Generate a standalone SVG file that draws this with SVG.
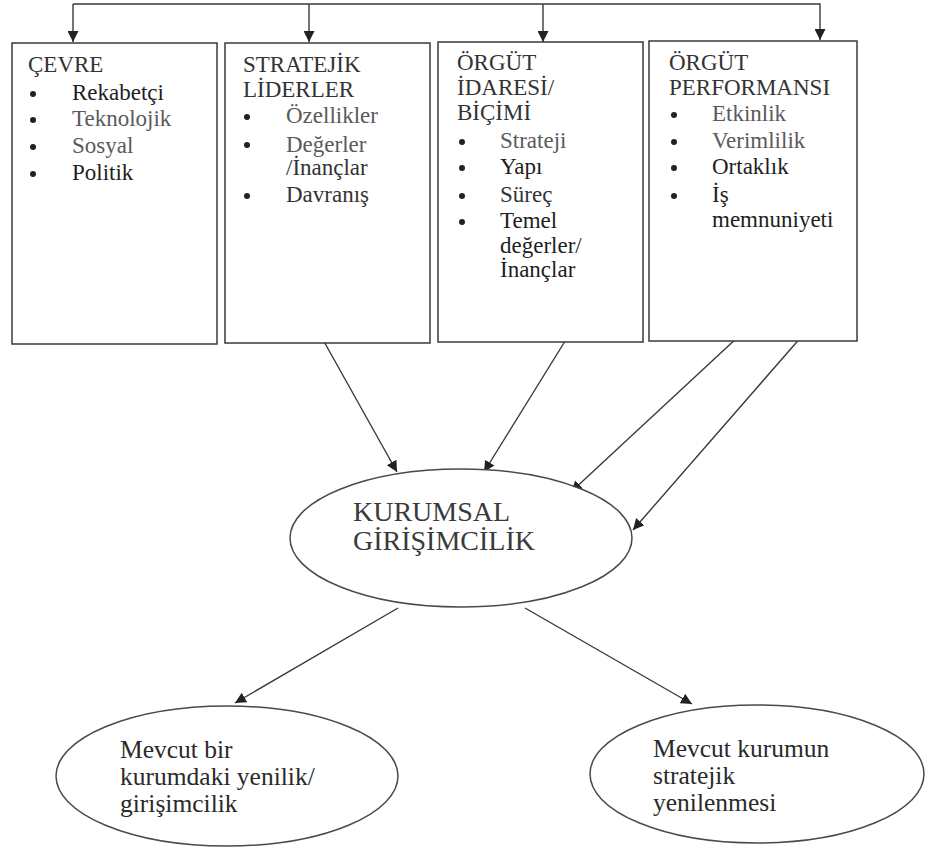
<svg xmlns="http://www.w3.org/2000/svg" width="927" height="850" viewBox="0 0 927 850" font-family="Liberation Serif, Times New Roman, serif">
  <style>
    .box { fill: #fff; stroke: #3a3a3a; stroke-width: 1.5; }
    .oval { fill: #fff; stroke: #4a4a4a; stroke-width: 1.5; }
    .wire { fill: none; stroke: #3a3a3a; stroke-width: 1.4; }
    .t { font-size: 23px; fill: #333; }
    .dk { fill: #1e1e1e; }
    .lt { fill: #5a5a5a; }
    .big { font-size: 28px; fill: #3a3a3a; }
    .mid { font-size: 25.5px; fill: #2a2a2a; }
    .dot { fill: #222; }
  </style>
  <defs>
    <marker id="ah" viewBox="0 0 10 10" refX="10" refY="5" markerWidth="11" markerHeight="11" markerUnits="userSpaceOnUse" orient="auto">
      <path d="M0,0 L10,5 L0,10 Z" fill="#222"/>
    </marker>
  </defs>

  <g id="connectors">
    <!-- feedback bus across the top, dropping into each box -->
    <polyline class="wire" points="73,4 820,4 820,40" marker-end="url(#ah)"/>
    <line class="wire" x1="73" y1="4" x2="73" y2="42" marker-end="url(#ah)"/>
    <line class="wire" x1="309" y1="4" x2="309" y2="42" marker-end="url(#ah)"/>
    <line class="wire" x1="543" y1="4" x2="543" y2="42" marker-end="url(#ah)"/>
    <!-- inputs to the central oval -->
    <line class="wire" x1="322" y1="338" x2="397" y2="472" marker-end="url(#ah)"/>
    <line class="wire" x1="567" y1="338" x2="484" y2="472" marker-end="url(#ah)"/>
    <line class="wire" x1="739" y1="336" x2="571" y2="492" marker-end="url(#ah)"/>
    <line class="wire" x1="802" y1="336" x2="633" y2="530" marker-end="url(#ah)"/>
    <!-- outcomes -->
    <line class="wire" x1="398" y1="608" x2="235" y2="703" marker-end="url(#ah)"/>
    <line class="wire" x1="525" y1="608" x2="692" y2="704" marker-end="url(#ah)"/>
  </g>

  <g id="cevre">
    <rect class="box" x="12" y="43" width="205" height="301"/>
    <text class="t" x="28" y="72">ÇEVRE</text>
    <circle class="dot" cx="33" cy="94" r="3"/>
    <text class="t dk" x="72" y="100">Rekabetçi</text>
    <circle class="dot" cx="33" cy="120" r="3"/>
    <text class="t lt" x="72" y="126">Teknolojik</text>
    <circle class="dot" cx="33" cy="147" r="3"/>
    <text class="t lt" x="72" y="153">Sosyal</text>
    <circle class="dot" cx="33" cy="174" r="3"/>
    <text class="t dk" x="72" y="180">Politik</text>
  </g>

  <g id="stratejik-liderler">
    <rect class="box" x="225" y="43" width="205" height="300"/>
    <text class="t" x="243" y="72">STRATEJİK</text>
    <text class="t" x="243" y="97">LİDERLER</text>
    <circle class="dot" cx="247" cy="117" r="3"/>
    <text class="t lt" x="286" y="123">Özellikler</text>
    <circle class="dot" cx="247" cy="145" r="3"/>
    <text class="t lt" x="286" y="152">Değerler</text>
    <text class="t" x="286" y="175">/İnançlar</text>
    <circle class="dot" cx="247" cy="196" r="3"/>
    <text class="t" x="286" y="202">Davranış</text>
  </g>

  <g id="orgut-idaresi">
    <rect class="box" x="438" y="42" width="205" height="300"/>
    <text class="t" x="457" y="70">ÖRGÜT</text>
    <text class="t" x="457" y="95">İDARESİ/</text>
    <text class="t" x="457" y="120">BİÇİMİ</text>
    <circle class="dot" cx="462" cy="142" r="3"/>
    <text class="t lt" x="500" y="148">Strateji</text>
    <circle class="dot" cx="462" cy="168" r="3"/>
    <text class="t dk" x="500" y="174">Yapı</text>
    <circle class="dot" cx="462" cy="196" r="3"/>
    <text class="t" x="500" y="202">Süreç</text>
    <circle class="dot" cx="462" cy="222" r="3"/>
    <text class="t dk" x="500" y="228">Temel</text>
    <text class="t dk" x="500" y="253">değerler/</text>
    <text class="t dk" x="500" y="277">İnançlar</text>
  </g>

  <g id="orgut-performansi">
    <rect class="box" x="649" y="41" width="208" height="300"/>
    <text class="t" x="669" y="70">ÖRGÜT</text>
    <text class="t" x="669" y="95">PERFORMANSI</text>
    <circle class="dot" cx="674" cy="115" r="3"/>
    <text class="t lt" x="712" y="121">Etkinlik</text>
    <circle class="dot" cx="674" cy="142" r="3"/>
    <text class="t lt" x="712" y="148">Verimlilik</text>
    <circle class="dot" cx="674" cy="168" r="3"/>
    <text class="t dk" x="712" y="174">Ortaklık</text>
    <circle class="dot" cx="674" cy="196" r="3"/>
    <text class="t dk" x="712" y="202">İş</text>
    <text class="t dk" x="712" y="227">memnuniyeti</text>
  </g>

  <g id="kurumsal-girisimcilik">
    <ellipse class="oval" cx="461" cy="538" rx="171" ry="69"/>
    <text class="big" x="353" y="521">KURUMSAL</text>
    <text class="big" x="353" y="550">GİRİŞİMCİLİK</text>
  </g>

  <g id="yenilik-girisimcilik">
    <ellipse class="oval" cx="227" cy="776" rx="171" ry="70"/>
    <text class="mid" x="120" y="758">Mevcut bir</text>
    <text class="mid" x="120" y="785">kurumdaki yenilik/</text>
    <text class="mid" x="120" y="812">girişimcilik</text>
  </g>

  <g id="stratejik-yenilenme">
    <ellipse class="oval" cx="757" cy="774" rx="167" ry="69"/>
    <text class="mid" x="653" y="757">Mevcut kurumun</text>
    <text class="mid" x="653" y="784">stratejik</text>
    <text class="mid" x="653" y="811">yenilenmesi</text>
  </g>
</svg>
